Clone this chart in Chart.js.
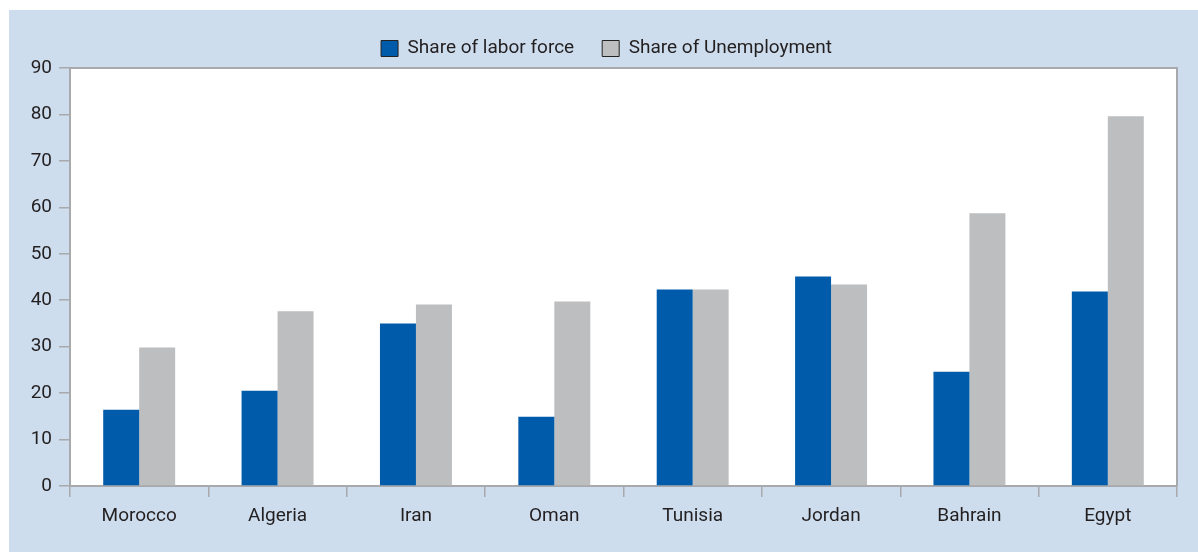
<!DOCTYPE html>
<html>
<head>
    <title>Labor force and unemployment shares</title>
    <script src="https://cdn.jsdelivr.net/npm/chart.js"></script>
    <style>
        body {
            margin: 0;
            background: #ffffff;
        }
    </style>
</head>
<body>
    <canvas id="shareChart" width="1198" height="552"></canvas>

    <script>
        const countries = ['Morocco', 'Algeria', 'Iran', 'Oman', 'Tunisia', 'Jordan', 'Bahrain', 'Egypt'];
        const laborForce = [16.4, 20.5, 35.0, 14.9, 42.3, 45.1, 24.6, 41.9];
        const unemployment = [29.8, 37.6, 39.1, 39.7, 42.3, 43.4, 58.7, 79.6];
        const yTicks = [0, 10, 20, 30, 40, 50, 60, 70, 80, 90];

        const axisGray = '#a7a9ac';
        const textColor = '#231f20';

        // light blue panel behind everything, white plot area with a gray frame
        const panel = {
            id: 'panel',
            afterLayout(chart) {
                // legend sits a little left of the plot centre
                chart.legend.left -= 17;
                chart.legend.right -= 17;
            },
            beforeDraw(chart) {
                const ctx = chart.ctx;
                ctx.save();
                ctx.fillStyle = '#cddded';
                ctx.fillRect(9, 10, chart.width - 9, chart.height - 10);
                const a = chart.chartArea;
                ctx.fillStyle = '#ffffff';
                ctx.fillRect(a.left, a.top, a.right - a.left, a.bottom - a.top);
                ctx.restore();
            },
            afterDatasetsDraw(chart) {
                const ctx = chart.ctx;
                const a = chart.chartArea;
                ctx.save();
                ctx.strokeStyle = axisGray;
                ctx.lineWidth = 2;
                ctx.beginPath();
                ctx.moveTo(a.left, a.top);
                ctx.lineTo(a.right, a.top);
                ctx.lineTo(a.right, a.bottom);
                ctx.stroke();
                ctx.restore();
            }
        };

        const ctx = document.getElementById('shareChart').getContext('2d');
        new Chart(ctx, {
            type: 'bar',
            data: {
                labels: countries,
                datasets: [{
                    label: 'Share of labor force',
                    data: laborForce,
                    backgroundColor: '#005baa',
                    borderWidth: 0
                }, {
                    label: 'Share of Unemployment',
                    data: unemployment,
                    backgroundColor: '#bdbec0',
                    borderWidth: 0
                }]
            },
            options: {
                responsive: false,
                devicePixelRatio: 1,
                animation: false,
                layout: {
                    padding: { left: 0, right: 21, top: 11, bottom: 0 }
                },
                datasets: {
                    bar: {
                        categoryPercentage: 0.52,
                        barPercentage: 1.0
                    }
                },
                plugins: {
                    tooltip: { enabled: false },
                    legend: {
                        position: 'top',
                        fullSize: false,
                        maxHeight: 66,
                        labels: {
                            boxWidth: 17,
                            boxHeight: 16,
                            padding: 28,
                            color: textColor,
                            font: { family: 'Roboto', size: 19 },
                            generateLabels(chart) {
                                const items = Chart.defaults.plugins.legend.labels.generateLabels(chart);
                                items.forEach(item => {
                                    item.strokeStyle = '#222222';
                                    item.lineWidth = 1;
                                });
                                return items;
                            }
                        }
                    }
                },
                scales: {
                    x: {
                        grid: {
                            offset: true,
                            drawOnChartArea: false,
                            drawTicks: true,
                            tickLength: 11,
                            color: axisGray,
                            lineWidth: 1.5
                        },
                        border: { display: true, color: axisGray, width: 2 },
                        ticks: {
                            color: textColor,
                            padding: 8,
                            font: { family: 'Roboto', size: 19 }
                        },
                        afterFit(scale) {
                            scale.height = 66;
                        }
                    },
                    y: {
                        min: 0,
                        max: 90,
                        afterBuildTicks(scale) {
                            scale.ticks = yTicks.map(v => ({ value: v }));
                        },
                        grid: {
                            drawOnChartArea: false,
                            drawTicks: true,
                            tickLength: 11,
                            color: axisGray,
                            lineWidth: 1.5
                        },
                        border: { display: true, color: axisGray, width: 2 },
                        ticks: {
                            color: textColor,
                            padding: 7,
                            font: { family: 'Roboto', size: 19 }
                        },
                        afterFit(scale) {
                            scale.width = 70;
                        }
                    }
                }
            },
            plugins: [panel]
        });
    </script>
</body>
</html>
